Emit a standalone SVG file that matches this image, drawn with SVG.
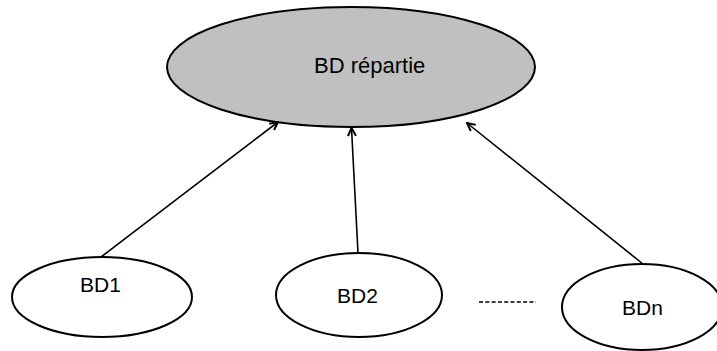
<svg xmlns="http://www.w3.org/2000/svg" width="717" height="351" viewBox="0 0 717 351">
<defs>
<style>
.node{fill:#fff;stroke:#000;stroke-width:2}
.main{fill:#c0c0c0;stroke:#000;stroke-width:2}
.lbl{font-family:"Liberation Sans",Arial,sans-serif;font-size:21px;fill:#000}
.conn{stroke:#000;stroke-width:1.6;fill:none}
</style>
<marker id="arr" viewBox="0 0 10 10" refX="9" refY="5" markerWidth="10" markerHeight="10" markerUnits="userSpaceOnUse" orient="auto">
<path d="M1,1 L9,5 L1,9" fill="none" stroke="#000" stroke-width="2"/>
</marker>
</defs>
<rect width="717" height="351" fill="#fff"/>
<g id="bd-repartie">
<ellipse class="main" cx="351" cy="67" rx="184" ry="60"/>
<text class="lbl" x="314" y="73" style="font-size:22px">BD répartie</text>
</g>
<g id="bd1">
<ellipse class="node" cx="102" cy="297" rx="90" ry="40"/>
<text class="lbl" x="80" y="292">BD1</text>
</g>
<g id="bd2">
<ellipse class="node" cx="359" cy="295" rx="83" ry="42"/>
<text class="lbl" x="337" y="303">BD2</text>
</g>
<g id="bdn">
<ellipse class="node" cx="642" cy="307" rx="80" ry="43"/>
<text class="lbl" x="622" y="315">BDn</text>
</g>
<g id="connectors">
<line class="conn" x1="101" y1="257" x2="278" y2="122" marker-end="url(#arr)"/>
<line class="conn" x1="358" y1="253" x2="351.5" y2="128" marker-end="url(#arr)"/>
<line class="conn" x1="643" y1="264" x2="467" y2="123" marker-end="url(#arr)"/>
<line x1="479" y1="302" x2="536" y2="302" stroke="#000" stroke-width="1.5" stroke-dasharray="4,2.3"/>
</g>
</svg>
